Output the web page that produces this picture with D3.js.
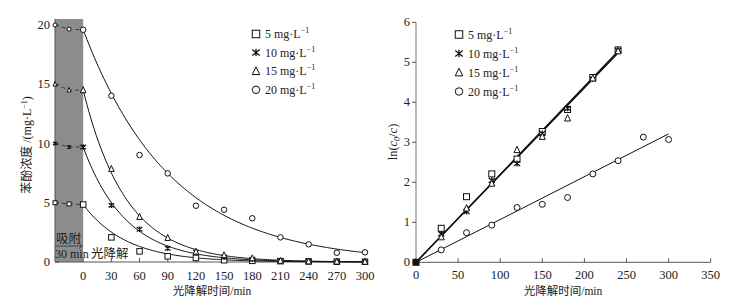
<!DOCTYPE html>
<html>
<head>
<meta charset="utf-8">
<script src="https://cdn.jsdelivr.net/npm/d3@7"></script>
<style>
  body { margin: 0; background: #fff; }
  text { font-family: "Liberation Serif", "Noto Sans CJK SC", serif; fill: #222; }
</style>
</head>
<body>
<div id="chart"></div>
<script>
// series labels
var seriesNames = ["5", "10", "15", "20"];
var seriesShapes = ["square", "star", "triangle", "circle"];

// adsorption stage (dark), t = -30, -15, 0
var adsTimes = [-30, -15, 0];
var ads5 = [5.0, 4.9, 4.85];
var ads10 = [10.0, 9.7, 9.7];
var ads15 = [15.0, 14.5, 14.5];
var ads20 = [20.0, 19.65, 19.6];

// photodegradation stage, concentration (mg/L)
var times = [0, 30, 60, 90, 120, 150, 180, 210, 240, 270, 300];
var conc5 = [4.85, 2.08, 0.9, 0.48, 0.34, 0.15, 0.1, 0.07, 0.05, 0.03, 0.02];
var conc10 = [9.7, 4.78, 2.76, 1.16, 0.82, 0.4, 0.23, 0.1, 0.05, 0.03, 0.02];
var conc15 = [14.5, 7.85, 3.8, 2.03, 0.87, 0.57, 0.31, 0.1, 0.05, 0.03, 0.02];
var conc20 = [19.6, 14.03, 9.03, 7.48, 4.75, 4.41, 3.69, 2.08, 1.49, 0.78, 0.82];

// ln(c0/c) kinetics
var lnTimes = [0, 30, 60, 90, 120, 150, 180, 210, 240, 270, 300];
var ln5 = [0, 0.85, 1.64, 2.21, 2.58, 3.27, 3.82, 4.62, 5.31];
var ln10 = [0, 0.71, 1.27, 2.05, 2.47, 3.22, 3.85, 4.58, 5.3];
var ln15 = [0, 0.63, 1.35, 1.97, 2.81, 3.14, 3.6, 4.6, 5.28];
var ln20 = [0, 0.31, 0.74, 0.93, 1.37, 1.45, 1.62, 2.21, 2.54, 3.13, 3.07];

// first-order fit: rate constants (1/min) and fit end time
var fitK = [0.0218, 0.0220, 0.0219, 0.0107];
var fitEnd = [240, 240, 240, 300];

// ticks
var leftXTicks = [0, 30, 60, 90, 120, 150, 180, 210, 240, 270, 300];
var leftYTicks = [0, 5, 10, 15, 20];
var rightXTicks = [0, 50, 100, 150, 200, 250, 300, 350];
var rightYTicks = [0, 1, 2, 3, 4, 5, 6];

var width = 747, height = 305;
var svg = d3.select("#chart").append("svg")
    .attr("width", width).attr("height", height);

var axisColor = "#555";

// marker drawing
function marker(g, shape, x, y, s) {
    if (shape === "square") {
        g.append("rect").attr("x", x - s / 2).attr("y", y - s / 2)
            .attr("width", s).attr("height", s)
            .attr("fill", "#fff").attr("stroke", "#111").attr("stroke-width", 1);
    } else if (shape === "circle") {
        g.append("circle").attr("cx", x).attr("cy", y).attr("r", s / 2)
            .attr("fill", "#fff").attr("stroke", "#111").attr("stroke-width", 1);
    } else if (shape === "triangle") {
        var h = s * 0.9;
        g.append("path")
            .attr("d", `M${x},${y - h / 2 - 1}L${x + s / 2},${y + h / 2}L${x - s / 2},${y + h / 2}Z`)
            .attr("fill", "#fff").attr("stroke", "#111").attr("stroke-width", 1);
    } else {
        var r = s / 2;
        g.append("path")
            .attr("d", `M${x},${y - r}L${x},${y + r}M${x - r},${y - r * 0.8}L${x + r},${y + r * 0.8}M${x - r},${y + r * 0.8}L${x + r},${y - r * 0.8}`)
            .attr("fill", "none").attr("stroke", "#111").attr("stroke-width", 1.3);
    }
}

function legend(g, x0, y0, dy) {
    seriesNames.forEach(function (n, i) {
        var y = y0 + i * dy;
        marker(g, seriesShapes[i], x0, y, 7.5);
        var t = g.append("text").attr("x", x0 + 9).attr("y", y + 4)
            .style("font-size", "12px");
        t.append("tspan").text(n + " mg·L");
        t.append("tspan").attr("dy", -5).style("font-size", "8px").text("−1");
    });
}

// ---------- left chart ----------
var xL = d3.scaleLinear().domain([-30, 300]).range([55, 365]);
var yL = d3.scaleLinear().domain([0, 20]).range([262, 25]);

var left = svg.append("g");

left.append("rect")
    .attr("x", xL(-30)).attr("y", 19)
    .attr("width", xL(0) - xL(-30)).attr("height", yL(0) - 19)
    .attr("fill", "#8c8c8c");

left.append("line").attr("x1", xL(-30)).attr("x2", xL(300))
    .attr("y1", yL(0)).attr("y2", yL(0)).attr("stroke", axisColor);
left.append("line").attr("x1", xL(-30)).attr("x2", xL(-30))
    .attr("y1", yL(0)).attr("y2", 19).attr("stroke", axisColor);

leftXTicks.forEach(function (t) {
    left.append("line").attr("x1", xL(t)).attr("x2", xL(t))
        .attr("y1", yL(0)).attr("y2", yL(0) - 4).attr("stroke", axisColor);
    left.append("text").attr("x", xL(t)).attr("y", 280)
        .attr("text-anchor", "middle").style("font-size", "12.5px").text(t);
});
leftYTicks.forEach(function (v) {
    left.append("line").attr("x1", xL(-30)).attr("x2", xL(-30) + 4)
        .attr("y1", yL(v)).attr("y2", yL(v)).attr("stroke", "#555");
    left.append("text").attr("x", 50).attr("y", yL(v) + 4)
        .attr("text-anchor", "end").style("font-size", "12.5px").text(v);
});

left.append("text").attr("x", 212).attr("y", 295).attr("text-anchor", "middle")
    .style("font-size", "11.5px").text("光降解时间/min");
var ylt = left.append("text").attr("transform", "translate(31,145) rotate(-90)")
    .attr("text-anchor", "middle").style("font-size", "12px");
ylt.append("tspan").text("苯酚浓度 /(mg·L");
ylt.append("tspan").attr("dy", -4).style("font-size", "8px").text("−1");
ylt.append("tspan").attr("dy", 4).text(")");

// stage labels
left.append("text").attr("x", 56).attr("y", 243).style("font-size", "12.5px").text("吸附");
left.append("line").attr("x1", 55).attr("x2", xL(0) - 1).attr("y1", 246).attr("y2", 246)
    .attr("stroke", "#333").attr("stroke-width", 0.8);
left.append("path").attr("d", `M${xL(0) - 4},243.5L${xL(0) - 1},246L${xL(0) - 4},248.5`)
    .attr("fill", "none").attr("stroke", "#333").attr("stroke-width", 0.8);
left.append("text").attr("x", 55).attr("y", 258).style("font-size", "12px").text("30 min");
left.append("text").attr("x", 91).attr("y", 258).style("font-size", "12.5px").text("光降解");

// adsorption dashed lines
var adsData = [ads5, ads10, ads15, ads20];
var dashLine = d3.line().x(function (d, i) { return xL(adsTimes[i]); }).y(function (d) { return yL(d); });
adsData.forEach(function (arr, s) {
    left.append("path").attr("d", dashLine(arr)).attr("fill", "none")
        .attr("stroke", "#333").attr("stroke-width", 0.9).attr("stroke-dasharray", "4,3");
    arr.forEach(function (v, i) {
        marker(left, seriesShapes[s], xL(adsTimes[i]), yL(v), 4);
    });
});

// fitted decay curves
var concData = [conc5, conc10, conc15, conc20];
var curve = d3.line().x(function (d) { return xL(d[0]); }).y(function (d) { return yL(d[1]); });
concData.forEach(function (arr, s) {
    var pts = d3.range(0, 301, 2).map(function (t) { return [t, arr[0] * Math.exp(-fitK[s] * t)]; });
    left.append("path").attr("d", curve(pts)).attr("fill", "none")
        .attr("stroke", "#111").attr("stroke-width", 1);
});
concData.forEach(function (arr, s) {
    arr.forEach(function (v, i) {
        marker(left, seriesShapes[s], xL(times[i]), yL(v), 5.5);
    });
});

legend(left.append("g"), 256, 34, 18.6);

// ---------- right chart ----------
var xR = d3.scaleLinear().domain([0, 350]).range([416, 710.7]);
var yR = d3.scaleLinear().domain([0, 6]).range([262.3, 22.3]);

var right = svg.append("g");
right.append("line").attr("x1", xR(0)).attr("x2", xR(350))
    .attr("y1", yR(0)).attr("y2", yR(0)).attr("stroke", axisColor);
right.append("line").attr("x1", xR(0)).attr("x2", xR(0))
    .attr("y1", yR(0)).attr("y2", yR(6)).attr("stroke", "#777");

rightXTicks.forEach(function (t) {
    right.append("line").attr("x1", xR(t)).attr("x2", xR(t))
        .attr("y1", yR(0)).attr("y2", yR(0) - 4).attr("stroke", axisColor);
    right.append("text").attr("x", xR(t)).attr("y", 279)
        .attr("text-anchor", "middle").style("font-size", "12.5px").text(t);
});
rightYTicks.forEach(function (v) {
    right.append("line").attr("x1", xR(0) - 4).attr("x2", xR(0))
        .attr("y1", yR(v)).attr("y2", yR(v)).attr("stroke", axisColor);
    right.append("text").attr("x", 410).attr("y", yR(v) + 4)
        .attr("text-anchor", "end").style("font-size", "12.5px").text(v);
});

right.append("text").attr("x", 563).attr("y", 295).attr("text-anchor", "middle")
    .style("font-size", "11.5px").text("光降解时间/min");
var yrt = right.append("text").attr("transform", "translate(397,142) rotate(-90)")
    .attr("text-anchor", "middle").style("font-size", "12.5px");
yrt.append("tspan").text("ln(");
yrt.append("tspan").style("font-style", "italic").text("c");
yrt.append("tspan").attr("dy", 3).style("font-size", "8px").style("font-style", "italic").text("0");
yrt.append("tspan").attr("dy", -3).text("/");
yrt.append("tspan").style("font-style", "italic").text("c");
yrt.append("tspan").text(")");

var lnData = [ln5, ln10, ln15, ln20];
var fitLine = d3.line().x(function (d) { return xR(d[0]); }).y(function (d) { return yR(d[1]); });
fitK.forEach(function (k, s) {
    right.append("path").attr("d", fitLine([[0, 0], [fitEnd[s], k * fitEnd[s]]]))
        .attr("fill", "none").attr("stroke", "#111").attr("stroke-width", s < 3 ? 1.2 : 1);
});
lnData.forEach(function (arr, s) {
    arr.forEach(function (v, i) {
        if (i === 0) return;
        marker(right, seriesShapes[s], xR(lnTimes[i]), yR(v), 6);
    });
});
right.append("rect").attr("x", xR(0) - 3.5).attr("y", yR(0) - 3.5)
    .attr("width", 7).attr("height", 7).attr("fill", "#111");

legend(right.append("g"), 459, 34.5, 19);
</script>
</body>
</html>
